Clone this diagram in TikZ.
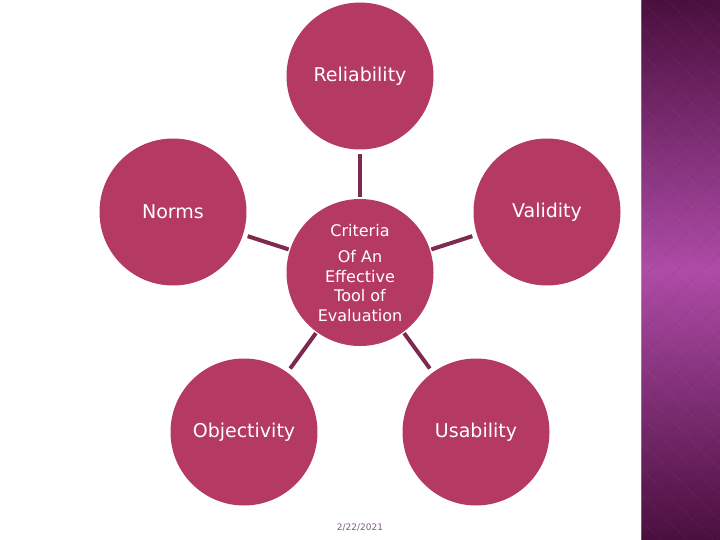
\documentclass[tikz,border=0pt]{standalone}
\usepackage{fontspec}
\setmainfont{DejaVu Sans}
\definecolor{bub}{HTML}{B43A64}
\definecolor{conn}{HTML}{7E2A50}
\definecolor{striptop}{HTML}{4A0F3E}
\definecolor{stripmid}{HTML}{AE4BA6}
\definecolor{datecol}{HTML}{7B5C86}
\tikzset{
  bubble/.style={circle, fill=bub, draw=none, minimum size=147pt, inner sep=0pt, outer sep=0pt,
    text=white, font=\fontsize{19}{22}\selectfont},
  hub/.style={bubble, minimum size=147pt},
  link/.style={draw=conn, line width=4pt, shorten <=5pt, shorten >=1.5pt},
}
\begin{document}
\begin{tikzpicture}[x=1pt,y=-1pt]
\useasboundingbox (0,0) rectangle (720,540);
\fill[white] (0,0) rectangle (720,540);
% right decorative strip
\shade[top color=striptop, bottom color=striptop, middle color=stripmid] (641,0) rectangle (720,540);
\begin{scope}
\clip (641,0) rectangle (720,540);
\foreach \k in {-30,...,30} {
  \draw[white, opacity=0.05, line width=0.6pt] (641+\k*26,0) -- ++(540,540);
  \draw[black, opacity=0.05, line width=0.6pt] (641+\k*26,540) -- ++(540,-540);
}
\end{scope}
\draw[white, opacity=0.25, line width=0.8pt] (641.5,0) -- (641.5,540);

% nodes
\node[hub] (c) at (360,272.5) {};
\node[text=white, align=center, font=\fontsize{16}{19.5}\selectfont] (ct) at (360,273)
  {Criteria\\[7pt]Of An\\Effective\\Tool of\\Evaluation};
\node[bubble] (r) at (360,76) {Reliability};
\node[bubble] (n) at (173,212) {Norms};
\node[bubble] (v) at (547,212) {Validity};
\node[bubble] (o) at (244,432) {Objectivity};
\node[bubble] (u) at (476,432) {Usability};

% connectors
\draw[link] (r) -- (c);
\draw[link] (n) -- (c);
\draw[link] (v) -- (c);
\draw[link] (o) -- (c);
\draw[link] (u) -- (c);

% date
\node[text=datecol, font=\fontsize{9}{11}\selectfont] (date) at (360,528) {2/22/2021};
\end{tikzpicture}
\end{document}
